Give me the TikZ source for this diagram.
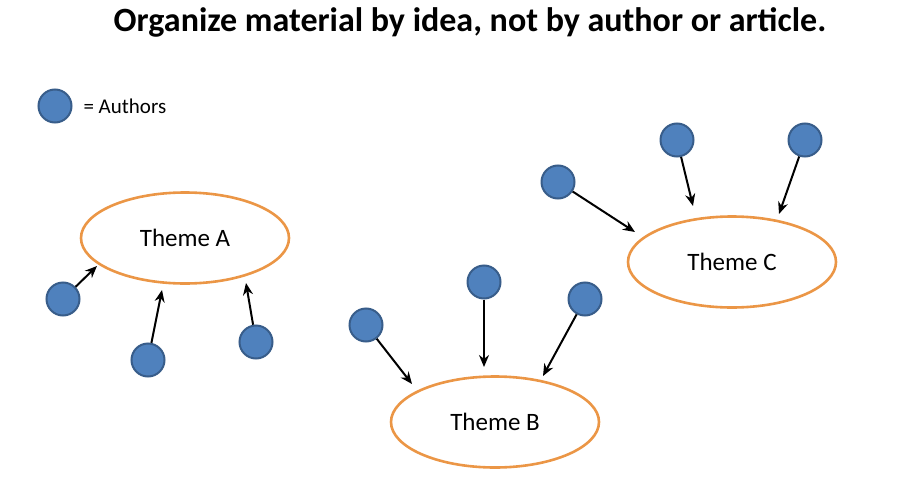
\documentclass[tikz,border=0pt]{standalone}
\usepackage{fontspec}
\setmainfont{Carlito}
\usetikzlibrary{arrows.meta,shapes.geometric}
\begin{document}
\begin{tikzpicture}[x=1pt,y=-1pt,
  author/.style={circle,fill={rgb,255:red,79;green,129;blue,189},draw={rgb,255:red,56;green,93;blue,138},line width=2pt,minimum size=33pt,inner sep=0pt},
  theme/.style={ellipse,draw={rgb,255:red,235;green,150;blue,70},line width=2.6pt,minimum width=208pt,minimum height=91pt,font=\fontsize{25}{30}\selectfont},
  arr/.style={-{Stealth[length=12pt,width=10pt]},line width=2pt}]
\useasboundingbox (0,0) rectangle (899,487);
\node[font=\bfseries\fontsize{34}{40}\selectfont] (title) at (470,22) {Organize material by idea, not by author or article.};
\node[author] (leg) at (55,106) {};
\node[anchor=west,font=\fontsize{21}{25}\selectfont] (legt) at (80,106) {= Authors};
\node[theme] (A) at (185,238) {Theme A};
\node[theme] (B) at (495,422) {Theme B};
\node[theme] (C) at (732,262) {Theme C};
\node[author] (a1) at (63,299) {};
\node[author] (a2) at (148,360) {};
\node[author] (a3) at (256,342) {};
\node[author] (b1) at (366,325) {};
\node[author] (b2) at (484,282) {};
\node[author] (b3) at (585,299) {};
\node[author] (c1) at (558,182) {};
\node[author] (c2) at (677,140) {};
\node[author] (c3) at (805,140) {};
\coordinate (ta1) at (97,266);
\coordinate (ta2) at (162,290);
\coordinate (ta3) at (246,283);
\coordinate (tb1) at (412,384);
\coordinate (tb2) at (484,367);
\coordinate (tb3) at (543,376);
\coordinate (tc1) at (635,232);
\coordinate (tc2) at (693,206);
\coordinate (tc3) at (779,214);
\foreach \s/\t in {a1/ta1,a2/ta2,a3/ta3,b1/tb1,b2/tb2,b3/tb3,c1/tc1,c2/tc2,c3/tc3}
  \draw[arr] (\s) -- (\t);
\end{tikzpicture}
\end{document}
